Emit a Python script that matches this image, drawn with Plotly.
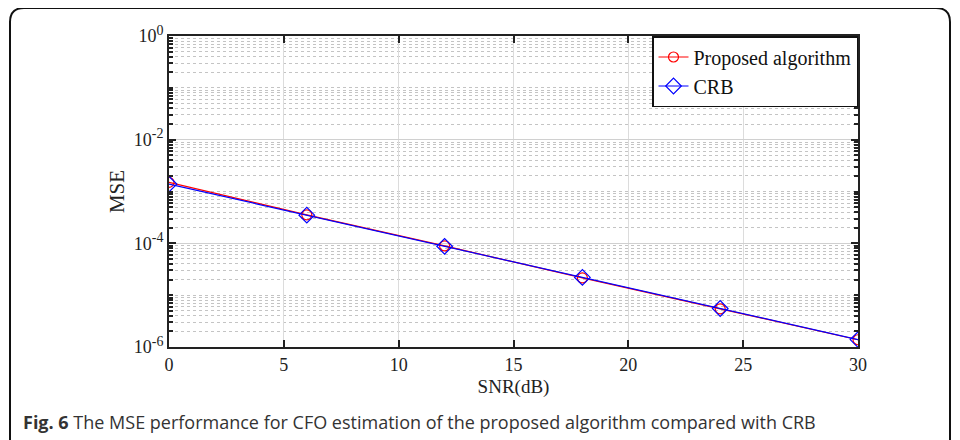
import plotly.graph_objects as go

snr_db = [0, 6, 12, 18, 24, 30]
mse_proposed = [1.50e-3, 3.55e-4, 8.9e-5, 2.15e-5, 5.45e-6, 1.38e-6]
mse_crb = [1.39e-3, 3.49e-4, 8.77e-5, 2.20e-5, 5.53e-6, 1.39e-6]
y_tick_vals = [1e-6, 1e-4, 1e-2, 1e0]
y_tick_text = ["10<sup><span style='font-size:14px'>-6</span></sup>",
               "10<sup><span style='font-size:14px'>-4</span></sup>",
               "10<sup><span style='font-size:14px'>-2</span></sup>",
               "10<sup><span style='font-size:14px'>0</span></sup>"]
x_tick_vals = [0, 5, 10, 15, 20, 25, 30]
caption = "<b>Fig. 6</b> The MSE performance for CFO estimation of the proposed algorithm compared with CRB"

# page has an 8px body margin; work in reference pixel coords and shift
OFF = 8
W, H = 960 - OFF, 440 - OFF
L, R, T, B = 169 - OFF, 858 - OFF, 36 - OFF, 347 - OFF

def px(x):
    return (x - OFF - L) / (R - L)

def py(y):
    return (B - (y - OFF)) / (B - T)

minor_vals = [m * 10.0 ** e for e in range(-6, 0) for m in range(1, 10) if not (m == 1 and e % 2 == 0)]

fig = go.Figure()
fig.add_trace(go.Scatter(
    x=snr_db, y=mse_proposed, name="Proposed algorithm", mode="lines+markers",
    line=dict(color="#ff0000", width=1.2),
    marker=dict(symbol="circle-open", size=10, color="#ff0000", line=dict(width=1.2)),
))
fig.add_trace(go.Scatter(
    x=snr_db, y=mse_crb, name="CRB", mode="lines+markers",
    line=dict(color="#0000ff", width=1.2),
    marker=dict(symbol="diamond-open", size=12, color="#0000ff", line=dict(width=1.2)),
))

axis_font = dict(family="Liberation Serif, Times New Roman, serif", size=18, color="#222")

fig.update_xaxes(
    range=[0, 30], tickvals=x_tick_vals, ticks="inside", ticklen=7, tickwidth=1.5,
    tickcolor="#222", showline=True, linecolor="#222", linewidth=2, mirror="ticks",
    showgrid=True, gridcolor="#dcdcdc", gridwidth=1, zeroline=False,
    tickfont=axis_font,
    title=dict(text="SNR(dB)", font=dict(family=axis_font["family"], size=19, color="#222"), standoff=6),
)
fig.update_yaxes(
    type="log", range=[-6, 0], tickvals=y_tick_vals, ticktext=y_tick_text,
    ticks="inside", ticklen=7, tickwidth=1.5, tickcolor="#222",
    showline=True, linecolor="#222", linewidth=2, mirror="ticks",
    showgrid=True, gridcolor="#d0d0d0", gridwidth=1, zeroline=False,
    tickfont=axis_font,
    minor=dict(tickvals=minor_vals, ticks="inside", ticklen=4, tickcolor="#222",
               showgrid=True, gridcolor="#c4c4c4", griddash="dot", gridwidth=1),
    title=dict(text="MSE", font=dict(family=axis_font["family"], size=21, color="#222"), standoff=3),
)

# rounded outer frame
x0, x1, y0, y1, r = px(10), px(950), py(8), py(470), 14
rx = r / (R - L)
ry = r / (B - T)
path = (f"M {x0},{y1} L {x0},{y0 - ry} Q {x0},{y0} {x0 + rx},{y0} "
        f"L {x1 - rx},{y0} Q {x1},{y0} {x1},{y0 - ry} L {x1},{y1}")
fig.add_shape(type="path", path=path, xref="paper", yref="paper",
              line=dict(color="#111", width=2), layer="above")

fig.add_annotation(
    text=caption, xref="paper", yref="paper", x=px(21), y=py(422),
    xanchor="left", yanchor="middle", showarrow=False,
    font=dict(family="Open Sans, Noto Sans, sans-serif", size=18, color="#333"),
)

fig.update_layout(
    width=W, height=H,
    margin=dict(l=L, r=W - R, t=T, b=H - B),
    paper_bgcolor="white", plot_bgcolor="white",
    showlegend=True,
    legend=dict(x=1, y=1, xanchor="right", yanchor="top",
                bgcolor="white", bordercolor="#111", borderwidth=1.5,
                font=dict(family=axis_font["family"], size=20, color="#111"),
                tracegroupgap=0, itemwidth=30),
)

fig.write_html("out.html")
